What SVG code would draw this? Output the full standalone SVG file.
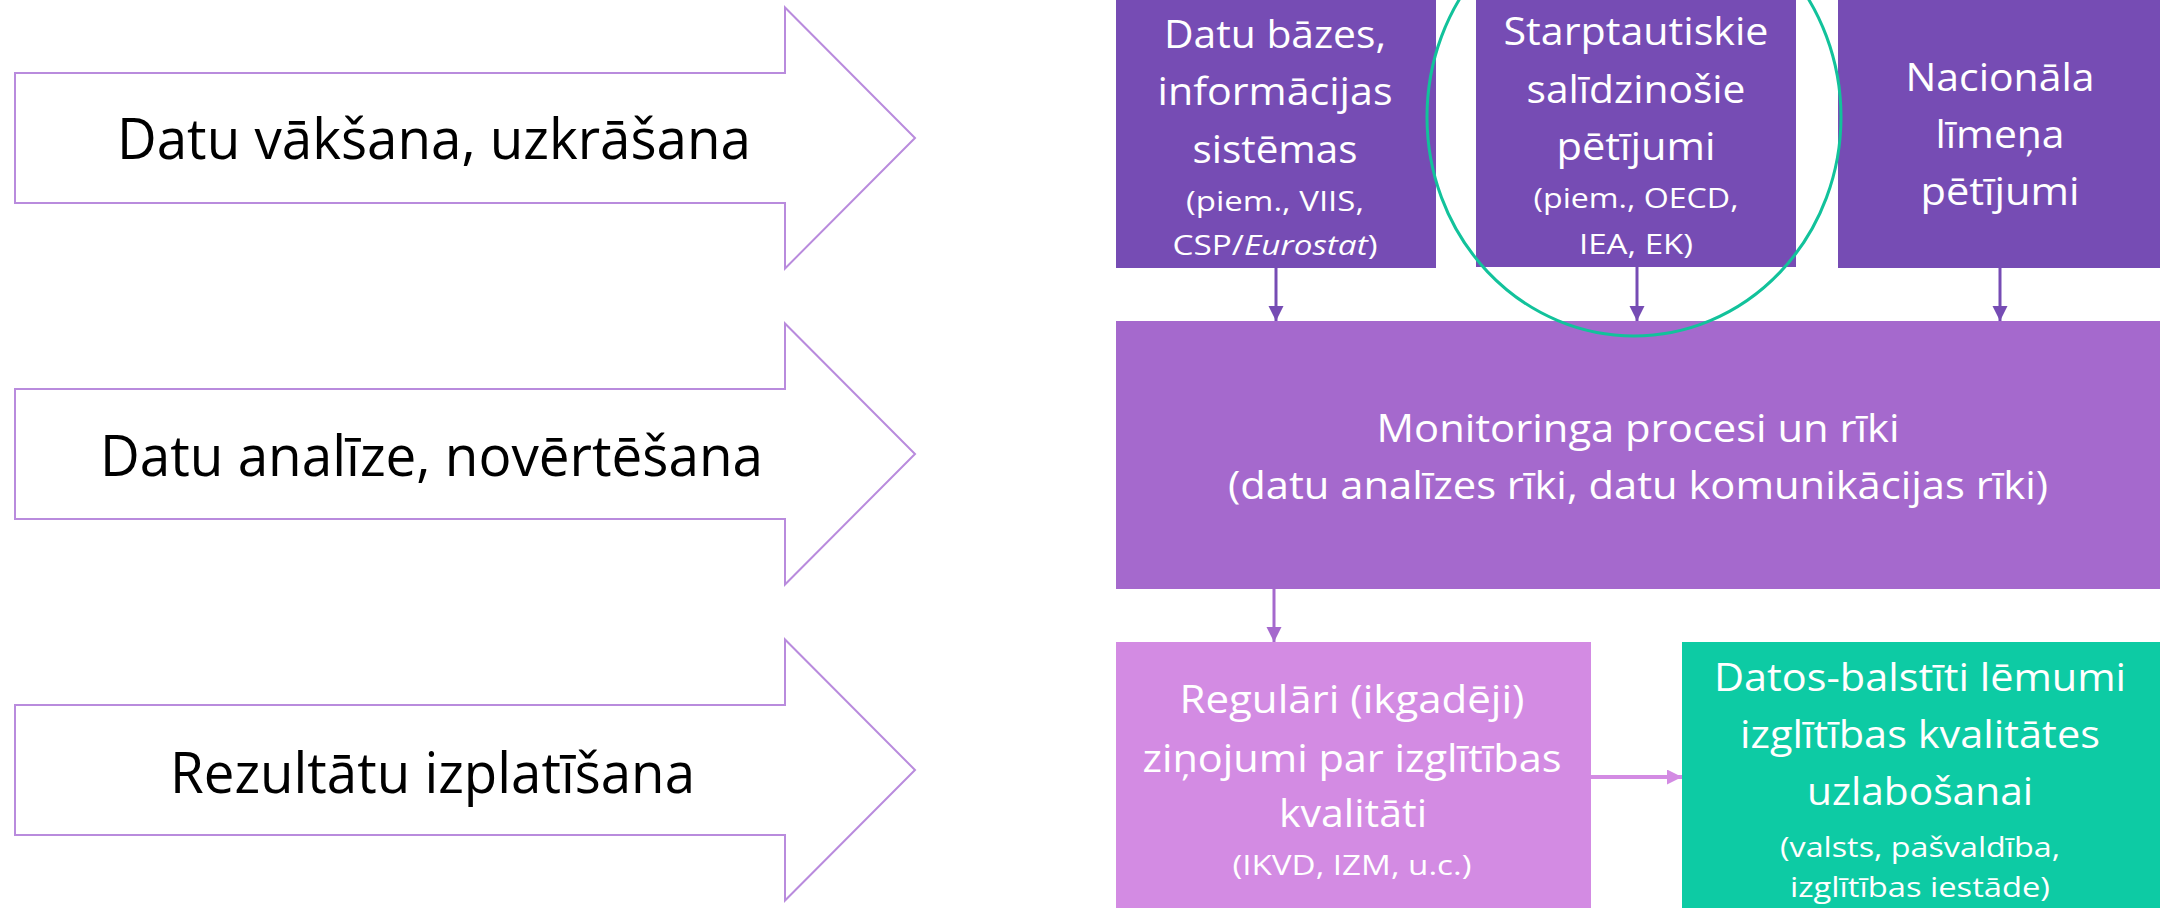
<svg xmlns="http://www.w3.org/2000/svg" width="2160" height="908" viewBox="0 0 2160 908">
<style>
text{font-family:"Open Sans","Noto Sans","Liberation Sans",sans-serif;text-anchor:middle}
.stage{fill:#ffffff;stroke:#B98BDD;stroke-width:2}
.lbl{font-size:56px;fill:#000000}
.big{font-size:38px;fill:#ffffff}
.sm{font-size:27px;fill:#ffffff}
.top{fill:#764CB4}
.mid{fill:#A569CD}
.rep{fill:#D38BE3}
.dec{fill:#0DCBA4}
.c1{stroke:#764CB4;stroke-width:3;fill:none}
.c2{stroke:#A569CD;stroke-width:3;fill:none}
.c3{stroke:#D38BE3;stroke-width:4;fill:none}
</style>
<defs>
<marker id="h1" markerUnits="userSpaceOnUse" markerWidth="16" markerHeight="16" refX="15" refY="7.5" orient="auto"><path d="M0,0 L15,7.5 L0,15 z" fill="#764CB4"/></marker>
<marker id="h2" markerUnits="userSpaceOnUse" markerWidth="16" markerHeight="16" refX="15" refY="7.5" orient="auto"><path d="M0,0 L15,7.5 L0,15 z" fill="#A569CD"/></marker>
<marker id="h3" markerUnits="userSpaceOnUse" markerWidth="16" markerHeight="16" refX="15" refY="7.5" orient="auto"><path d="M0,0 L15,7.5 L0,15 z" fill="#D38BE3"/></marker>
</defs>
<rect width="2160" height="908" fill="#ffffff"/>

<g id="stage1">
<polygon class="stage" points="15,73 785,73 785,7.5 915,138 785,268.5 785,203 15,203"/>
<text class="lbl" x="434" y="159" textLength="634" lengthAdjust="spacingAndGlyphs">Datu vākšana, uzkrāšana</text>
</g>
<g id="stage2">
<polygon class="stage" points="15,389 785,389 785,323.5 915,454 785,584.5 785,519 15,519"/>
<text class="lbl" x="431.5" y="476" textLength="663" lengthAdjust="spacingAndGlyphs">Datu analīze, novērtēšana</text>
</g>
<g id="stage3">
<polygon class="stage" points="15,705 785,705 785,639.5 915,770 785,900.5 785,835 15,835"/>
<text class="lbl" x="432.5" y="793" textLength="525" lengthAdjust="spacingAndGlyphs">Rezultātu izplatīšana</text>
</g>

<g id="databases">
<rect class="top" x="1116" y="0" width="320" height="268"/>
<text class="big" x="1275" y="48" textLength="222" lengthAdjust="spacingAndGlyphs">Datu bāzes,</text>
<text class="big" x="1275" y="105" textLength="235" lengthAdjust="spacingAndGlyphs">informācijas</text>
<text class="big" x="1275" y="163" textLength="165" lengthAdjust="spacingAndGlyphs">sistēmas</text>
<text class="sm" x="1275" y="211" textLength="178" lengthAdjust="spacingAndGlyphs">(piem., VIIS,</text>
<text class="sm" x="1275" y="255" textLength="205" lengthAdjust="spacingAndGlyphs">CSP/<tspan font-style="italic">Eurostat</tspan>)</text>
</g>
<g id="international">
<rect class="top" x="1476" y="0" width="320" height="267"/>
<text class="big" x="1636" y="45" textLength="265" lengthAdjust="spacingAndGlyphs">Starptautiskie</text>
<text class="big" x="1636" y="103" textLength="219" lengthAdjust="spacingAndGlyphs">salīdzinošie</text>
<text class="big" x="1636" y="160" textLength="159" lengthAdjust="spacingAndGlyphs">pētījumi</text>
<text class="sm" x="1636" y="208" textLength="205" lengthAdjust="spacingAndGlyphs">(piem., OECD,</text>
<text class="sm" x="1636" y="254" textLength="114" lengthAdjust="spacingAndGlyphs">IEA, EK)</text>
</g>
<g id="national">
<rect class="top" x="1838" y="0" width="322" height="268"/>
<text class="big" x="2000" y="91" textLength="189" lengthAdjust="spacingAndGlyphs">Nacionāla</text>
<text class="big" x="2000" y="148" textLength="129" lengthAdjust="spacingAndGlyphs">līmeņa</text>
<text class="big" x="2000" y="205" textLength="159" lengthAdjust="spacingAndGlyphs">pētījumi</text>
</g>
<g id="monitoring">
<rect class="mid" x="1116" y="321" width="1044" height="268"/>
<text class="big" x="1638" y="442" textLength="523" lengthAdjust="spacingAndGlyphs">Monitoringa procesi un rīki</text>
<text class="big" x="1638" y="499" textLength="820" lengthAdjust="spacingAndGlyphs">(datu analīzes rīki, datu komunikācijas rīki)</text>
</g>
<g id="reports">
<rect class="rep" x="1116" y="642" width="475" height="266"/>
<text class="big" x="1352" y="713" textLength="345" lengthAdjust="spacingAndGlyphs">Regulāri (ikgadēji)</text>
<text class="big" x="1352" y="772" textLength="419" lengthAdjust="spacingAndGlyphs">ziņojumi par izglītības</text>
<text class="big" x="1353" y="827" textLength="148" lengthAdjust="spacingAndGlyphs">kvalitāti</text>
<text class="sm" x="1352" y="875" textLength="239" lengthAdjust="spacingAndGlyphs">(IKVD, IZM, u.c.)</text>
</g>
<g id="decisions">
<rect class="dec" x="1682" y="642" width="478" height="266"/>
<text class="big" x="1920" y="691" textLength="412" lengthAdjust="spacingAndGlyphs">Datos-balstīti lēmumi</text>
<text class="big" x="1920" y="748" textLength="360" lengthAdjust="spacingAndGlyphs">izglītības kvalitātes</text>
<text class="big" x="1920" y="805" textLength="226" lengthAdjust="spacingAndGlyphs">uzlabošanai</text>
<text class="sm" x="1920" y="857" textLength="280" lengthAdjust="spacingAndGlyphs">(valsts, pašvaldība,</text>
<text class="sm" x="1920" y="897" textLength="260" lengthAdjust="spacingAndGlyphs">izglītības iestāde)</text>
</g>

<g id="connectors">
<line class="c1" x1="1276" y1="268" x2="1276" y2="321" marker-end="url(#h1)"/>
<line class="c1" x1="1637" y1="267" x2="1637" y2="321" marker-end="url(#h1)"/>
<line class="c1" x1="2000" y1="268" x2="2000" y2="321" marker-end="url(#h1)"/>
<line class="c2" x1="1274" y1="589" x2="1274" y2="642" marker-end="url(#h2)"/>
<line class="c3" x1="1591" y1="777" x2="1682" y2="777" marker-end="url(#h3)"/>
</g>

<g id="highlight">
<ellipse cx="1634" cy="117" rx="207" ry="219" fill="none" stroke="#12C29B" stroke-width="3"/>
</g>
</svg>
